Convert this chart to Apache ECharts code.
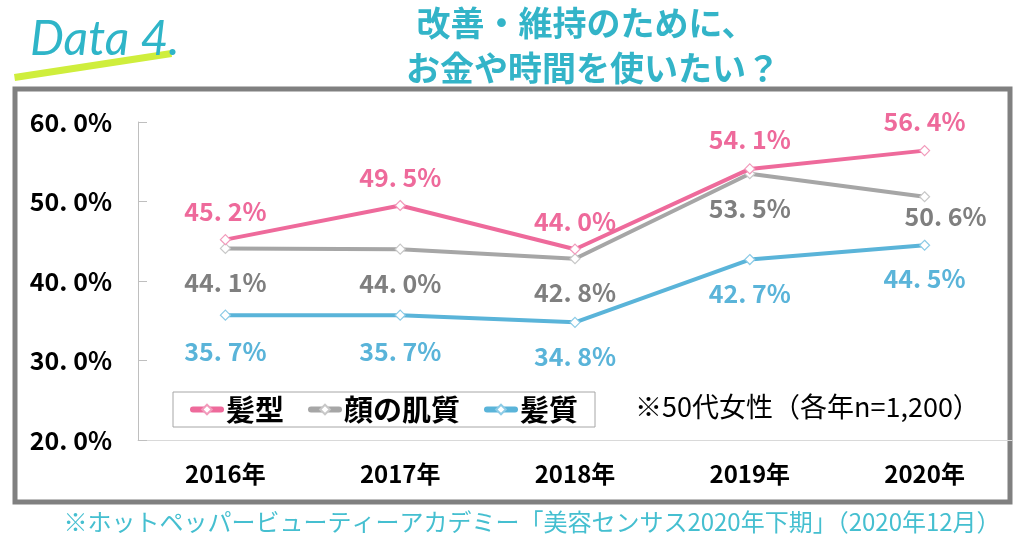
<!DOCTYPE html>
<html><head><meta charset="utf-8">
<script src="https://cdn.jsdelivr.net/npm/echarts@6/dist/echarts.min.js"></script>
<style>html,body{margin:0;padding:0;background:#fff}#c{width:1024px;height:538px}</style>
</head><body><div id="c"></div>
<script>
const years = ['2016年', '2017年', '2018年', '2019年', '2020年'];
const seriesNames = ['髪型', '顔の肌質', '髪質'];
const hairStyle = [45.2, 49.5, 44.0, 54.1, 56.4];
const faceSkin = [44.1, 44.0, 42.8, 53.5, 50.6];
const hairQuality = [35.7, 35.7, 34.8, 42.7, 44.5];
const yMin = 20, yMax = 60, yStep = 10;
const titleLines = ['改善・維持のために、', 'お金や時間を使いたい？'];
const noteText = '※50代女性（各年n=1,200）';
const sourceText = '※ホットペッパービューティーアカデミー「美容センサス2020年下期」（2020年12月）';

const NUM = "'Noto Sans CJK JP',sans-serif";
const JP = "'Noto Sans CJK JP',sans-serif";
const fmt = v => v.toFixed(1).replace('.', '. ') + '%';

function mkSeries(name, values, lineColor, markColor, labelColor, offsets, z) {
  return {
    name: name, type: 'line', data: values.map((v, i) => ({
      value: v, label: { offset: offsets[i] }
    })),
    z: z,
    symbol: 'diamond', symbolSize: 10,
    lineStyle: { color: lineColor, width: 4 },
    itemStyle: { color: '#fff', borderColor: markColor, borderWidth: 1.2 },
    label: {
      show: true, position: 'inside',
      formatter: p => fmt(p.value),
      color: labelColor, fontFamily: NUM, fontWeight: 'bold', fontSize: 25
    },
    emphasis: { disabled: true },
    animation: false
  };
}

const chart = echarts.init(document.getElementById('c'), null, { renderer: 'canvas' });
chart.setOption({
  backgroundColor: '#fff',
  animation: false,
  grid: { left: 138, right: 12, top: 122, bottom: 98 },
  xAxis: {
    type: 'category', data: years, boundaryGap: true,
    axisLine: { lineStyle: { color: '#d9d9d9', width: 1 } },
    axisTick: { show: false },
    axisLabel: { color: '#000', fontFamily: JP, fontWeight: 'bold', fontSize: 24, margin: 22 }
  },
  yAxis: {
    type: 'value', min: yMin, max: yMax, interval: yStep,
    axisLine: { show: true, lineStyle: { color: '#bfbfbf', width: 1 } },
    axisTick: { show: true, inside: true, length: 9, lineStyle: { color: '#bfbfbf' } },
    splitLine: { show: false },
    axisLabel: { color: '#000', fontFamily: NUM, fontWeight: 'bold', fontSize: 25, margin: 26,
      formatter: v => fmt(v) }
  },
  legend: {
    data: seriesNames,
    left: 173, top: 392,
    orient: 'horizontal',
    borderColor: '#a6a6a6', borderWidth: 1,
    padding: [3, 17, 3, 17],
    itemWidth: 28, itemHeight: 12, itemGap: 24,
    lineStyle: { width: 6, cap: 'round' },
    textStyle: { color: '#000', fontFamily: JP, fontWeight: 'bold', fontSize: 29 }
  },
  series: [
    mkSeries(seriesNames[0], hairStyle, '#ee6a9b', '#f29abb', '#ee6a9b',
      [[0, -28], [0, -28], [0, -28], [0, -29], [0, -29]], 5),
    mkSeries(seriesNames[1], faceSkin, '#a6a6a6', '#c8c8c8', '#7f7f7f',
      [[0, 34], [0, 34], [0, 34], [0, 35], [21, 20]], 4),
    mkSeries(seriesNames[2], hairQuality, '#5ab4d9', '#8ccbe6', '#5ab4d9',
      [[0, 36], [0, 36], [0, 34], [0, 34], [0, 33]], 3)
  ],
  graphic: [
    { type: 'rect', z: -1, shape: { x: 15, y: 89, width: 995, height: 413 },
      style: { fill: 'none', stroke: '#808080', lineWidth: 5 } },
    { type: 'polygon', shape: { points: [[14, 74], [171, 50], [172, 57], [15, 81]] },
      style: { fill: '#cfee3c' } },
    { type: 'text', x: 30, y: 40, style: { text: 'Data 4.', fill: '#2fb5c8',
      font: "italic 48px Lato, 'DejaVu Sans', sans-serif", textVerticalAlign: 'middle' } },
    { type: 'text', x: 586, y: 23, style: { text: titleLines[0], fill: '#33b4c8',
      font: "bold 34px 'Noto Sans CJK JP', sans-serif", textAlign: 'center', textVerticalAlign: 'middle' } },
    { type: 'text', x: 593, y: 68, style: { text: titleLines[1], fill: '#33b4c8',
      font: "bold 34px 'Noto Sans CJK JP', sans-serif", textAlign: 'center', textVerticalAlign: 'middle' } },
    { type: 'text', x: 635, y: 407, style: { text: noteText, fill: '#000',
      font: "27px 'Noto Sans CJK JP', sans-serif", textVerticalAlign: 'middle' } },
    { type: 'text', x: 532, y: 522, style: { text: sourceText, fill: '#45bfd0',
      font: "24px 'Noto Sans CJK JP', sans-serif", textAlign: 'center', textVerticalAlign: 'middle' } }
  ]
});
</script>
</body></html>
